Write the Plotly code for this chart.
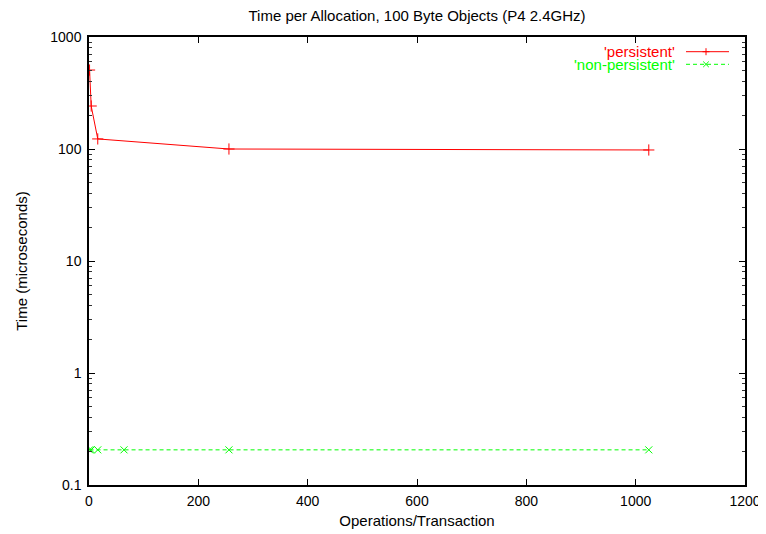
import plotly.graph_objects as go

title = "Time per Allocation, 100 Byte Objects (P4 2.4GHz)"
x_label = "Operations/Transaction"
y_label = "Time (microseconds)"

pers_x = [1, 4, 16, 256, 1024]
pers_y = [507, 242, 123, 100, 98]
nonp_x = [1, 4, 16, 64, 256, 1024]
nonp_y = [0.206, 0.206, 0.206, 0.206, 0.206, 0.206]
series_names = ["'persistent'", "'non-persistent'"]
series_colors = ["#ff0000", "#00ff00"]

y_tickvals = [0.1, 1, 10, 100, 1000]
y_ticktext = ["0.1", "1", "10", "100", "1000"]
x_tickvals = [0, 200, 400, 600, 800, 1000, 1200]

FONT = "Liberation Sans, Arial, Helvetica, sans-serif"
W, H = 766, 534
OFF = 8  # page body margin offsets the figure inside the window
# plot area in window pixels
L, R, T, B = 89, 745, 37, 485
PW, PH = R - L, B - T

fig = go.Figure()
fig.add_trace(go.Scatter(
    x=pers_x, y=pers_y, mode="lines+markers", name=series_names[0],
    line=dict(color=series_colors[0], width=1),
    marker=dict(symbol="cross-thin", size=8, line=dict(color=series_colors[0], width=1)),
    showlegend=False,
))
fig.add_trace(go.Scatter(
    x=nonp_x, y=nonp_y, mode="lines+markers", name=series_names[1],
    line=dict(color=series_colors[1], width=1, dash="4px,3px"),
    marker=dict(symbol="x-thin", size=7, line=dict(color=series_colors[1], width=1)),
    showlegend=False,
))

# gnuplot-style legend (text right-aligned, sample to its right)
legend_rows = [(51.7, "solid", "cross-thin"), (64.3, "4px,3px", "x-thin")]
for i, (ypx, dash, sym) in enumerate(legend_rows):
    yp = 1 - (ypx - T) / PH
    fig.add_annotation(
        xref="paper", yref="paper", x=(677 - L) / PW, y=yp,
        xanchor="right", yanchor="middle", showarrow=False,
        text=series_names[i], font=dict(family=FONT, size=15, color=series_colors[i]),
    )
    fig.add_shape(
        type="line", xref="paper", yref="paper",
        x0=(686 - L) / PW, x1=(729 - L) / PW, y0=yp, y1=yp,
        line=dict(color=series_colors[i], width=1, dash=dash),
    )
    cx = (706 - L) / PW
    d = 3.5 / PW
    dy = 3.5 / PH
    if sym == "cross-thin":
        fig.add_shape(type="line", xref="paper", yref="paper", x0=cx - d, x1=cx + d, y0=yp, y1=yp,
                      line=dict(color=series_colors[i], width=1))
        fig.add_shape(type="line", xref="paper", yref="paper", x0=cx, x1=cx, y0=yp - dy, y1=yp + dy,
                      line=dict(color=series_colors[i], width=1))
    else:
        fig.add_shape(type="line", xref="paper", yref="paper", x0=cx - d * 0.8, x1=cx + d * 0.8,
                      y0=yp - dy * 0.8, y1=yp + dy * 0.8, line=dict(color=series_colors[i], width=1))
        fig.add_shape(type="line", xref="paper", yref="paper", x0=cx - d * 0.8, x1=cx + d * 0.8,
                      y0=yp + dy * 0.8, y1=yp - dy * 0.8, line=dict(color=series_colors[i], width=1))

fig.update_layout(
    width=W, height=H,
    margin=dict(l=L - OFF, r=W - (R - OFF), t=T - OFF, b=H - (B - OFF), autoexpand=False),
    paper_bgcolor="white", plot_bgcolor="white",
    font=dict(family=FONT, size=15, color="black"),
    title=dict(text=title, x=(417 - OFF) / W, xanchor="center", xref="container",
               y=1 - 2 / H, yanchor="top", pad=dict(t=0, b=0, l=0, r=0),
               font=dict(family=FONT, size=15, color="black")),
    showlegend=False,
)
fig.update_xaxes(
    range=[0, 1200], tickvals=x_tickvals, ticks="inside", ticklen=6, tickcolor="black",
    showline=True, linecolor="black", linewidth=1.5, mirror="allticks",
    showgrid=False, zeroline=False, automargin=False, ticklabelstandoff=2,
    title=dict(text=x_label, standoff=8, font=dict(size=15)),
    tickfont=dict(size=14),
)
fig.update_yaxes(
    type="log", range=[-1, 3], tickvals=y_tickvals, ticktext=y_ticktext,
    ticks="inside", ticklen=6, tickcolor="black",
    minor=dict(ticks="inside", ticklen=3, tickcolor="#333", dtick="D1", showgrid=False),
    showline=True, linecolor="black", linewidth=1.5, mirror="allticks",
    showgrid=False, zeroline=False, automargin=False, ticklabelstandoff=3,
    title=dict(text=y_label, standoff=19, font=dict(size=15)),
    tickfont=dict(size=14),
)

fig.write_html("out.html")
